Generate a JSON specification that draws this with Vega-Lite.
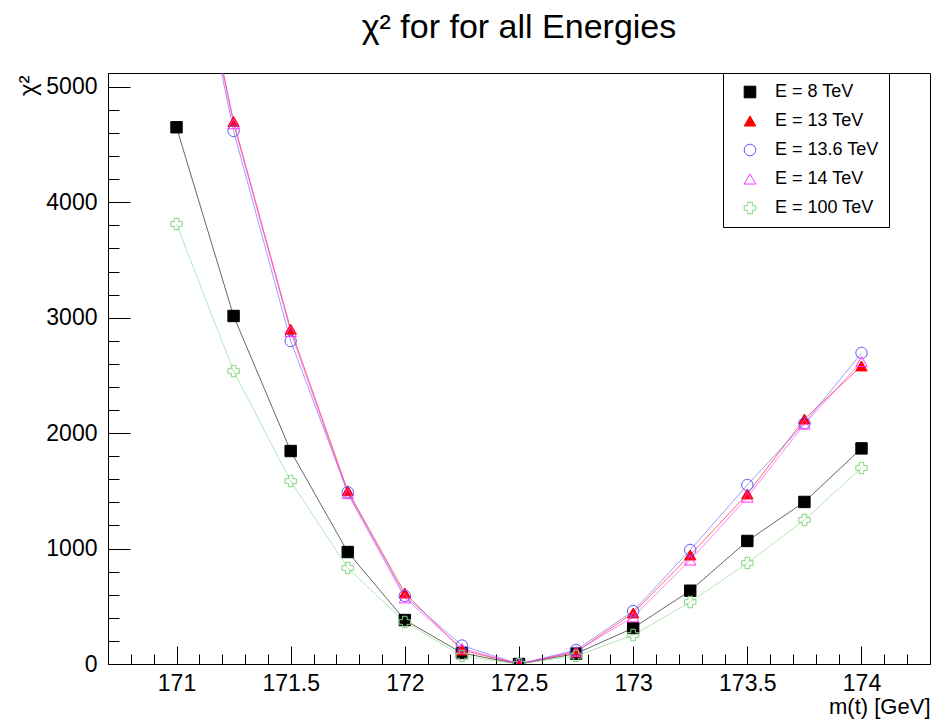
{
  "$schema": "https://vega.github.io/schema/vega-lite/v6.json",
  "width": 822,
  "height": 591,
  "autosize": {"type": "none"},
  "padding": {"left": 108, "top": 73, "right": 5, "bottom": 59},
  "background": "white",
  "title": {
    "text": "χ² for for all Energies",
    "font": "Liberation Sans",
    "fontSize": 34,
    "fontWeight": "normal",
    "color": "black",
    "anchor": "middle",
    "offset": 28
  },
  "config": {
    "view": {"stroke": "black", "strokeWidth": 1},
    "axis": {
      "grid": false,
      "domainColor": "black",
      "tickColor": "black",
      "labelColor": "black",
      "titleColor": "black",
      "labelFont": "Liberation Sans",
      "titleFont": "Liberation Sans",
      "titleFontWeight": "normal"
    }
  },
  "data": {
    "values": [
      {"m": 171, "chi2": 4650, "E": "E = 8 TeV"},
      {"m": 171.25, "chi2": 3015, "E": "E = 8 TeV"},
      {"m": 171.5, "chi2": 1845, "E": "E = 8 TeV"},
      {"m": 171.75, "chi2": 970, "E": "E = 8 TeV"},
      {"m": 172, "chi2": 381, "E": "E = 8 TeV"},
      {"m": 172.25, "chi2": 95, "E": "E = 8 TeV"},
      {"m": 172.5, "chi2": 0, "E": "E = 8 TeV"},
      {"m": 172.75, "chi2": 90, "E": "E = 8 TeV"},
      {"m": 173, "chi2": 312, "E": "E = 8 TeV"},
      {"m": 173.25, "chi2": 635, "E": "E = 8 TeV"},
      {"m": 173.5, "chi2": 1066, "E": "E = 8 TeV"},
      {"m": 173.75, "chi2": 1404, "E": "E = 8 TeV"},
      {"m": 174, "chi2": 1868, "E": "E = 8 TeV"},
      {"m": 171, "chi2": 7050, "E": "E = 13 TeV"},
      {"m": 171.25, "chi2": 4700, "E": "E = 13 TeV"},
      {"m": 171.5, "chi2": 2900, "E": "E = 13 TeV"},
      {"m": 171.75, "chi2": 1500, "E": "E = 13 TeV"},
      {"m": 172, "chi2": 615, "E": "E = 13 TeV"},
      {"m": 172.25, "chi2": 120, "E": "E = 13 TeV"},
      {"m": 172.5, "chi2": 0, "E": "E = 13 TeV"},
      {"m": 172.75, "chi2": 104, "E": "E = 13 TeV"},
      {"m": 173, "chi2": 442, "E": "E = 13 TeV"},
      {"m": 173.25, "chi2": 944, "E": "E = 13 TeV"},
      {"m": 173.5, "chi2": 1473, "E": "E = 13 TeV"},
      {"m": 173.75, "chi2": 2122, "E": "E = 13 TeV"},
      {"m": 174, "chi2": 2582, "E": "E = 13 TeV"},
      {"m": 171, "chi2": 7000, "E": "E = 13.6 TeV"},
      {"m": 171.25, "chi2": 4618, "E": "E = 13.6 TeV"},
      {"m": 171.5, "chi2": 2798, "E": "E = 13.6 TeV"},
      {"m": 171.75, "chi2": 1488, "E": "E = 13.6 TeV"},
      {"m": 172, "chi2": 590, "E": "E = 13.6 TeV"},
      {"m": 172.25, "chi2": 160, "E": "E = 13.6 TeV"},
      {"m": 172.5, "chi2": 0, "E": "E = 13.6 TeV"},
      {"m": 172.75, "chi2": 121, "E": "E = 13.6 TeV"},
      {"m": 173, "chi2": 459, "E": "E = 13.6 TeV"},
      {"m": 173.25, "chi2": 988, "E": "E = 13.6 TeV"},
      {"m": 173.5, "chi2": 1551, "E": "E = 13.6 TeV"},
      {"m": 173.75, "chi2": 2085, "E": "E = 13.6 TeV"},
      {"m": 174, "chi2": 2695, "E": "E = 13.6 TeV"},
      {"m": 171, "chi2": 7030, "E": "E = 14 TeV"},
      {"m": 171.25, "chi2": 4680, "E": "E = 14 TeV"},
      {"m": 171.5, "chi2": 2880, "E": "E = 14 TeV"},
      {"m": 171.75, "chi2": 1475, "E": "E = 14 TeV"},
      {"m": 172, "chi2": 572, "E": "E = 14 TeV"},
      {"m": 172.25, "chi2": 135, "E": "E = 14 TeV"},
      {"m": 172.5, "chi2": 0, "E": "E = 14 TeV"},
      {"m": 172.75, "chi2": 110, "E": "E = 14 TeV"},
      {"m": 173, "chi2": 407, "E": "E = 14 TeV"},
      {"m": 173.25, "chi2": 900, "E": "E = 14 TeV"},
      {"m": 173.5, "chi2": 1445, "E": "E = 14 TeV"},
      {"m": 173.75, "chi2": 2078, "E": "E = 14 TeV"},
      {"m": 174, "chi2": 2620, "E": "E = 14 TeV"},
      {"m": 171, "chi2": 3812, "E": "E = 100 TeV"},
      {"m": 171.25, "chi2": 2538, "E": "E = 100 TeV"},
      {"m": 171.5, "chi2": 1585, "E": "E = 100 TeV"},
      {"m": 171.75, "chi2": 832, "E": "E = 100 TeV"},
      {"m": 172, "chi2": 364, "E": "E = 100 TeV"},
      {"m": 172.25, "chi2": 70, "E": "E = 100 TeV"},
      {"m": 172.5, "chi2": 0, "E": "E = 100 TeV"},
      {"m": 172.75, "chi2": 70, "E": "E = 100 TeV"},
      {"m": 173, "chi2": 251, "E": "E = 100 TeV"},
      {"m": 173.25, "chi2": 537, "E": "E = 100 TeV"},
      {"m": 173.5, "chi2": 875, "E": "E = 100 TeV"},
      {"m": 173.75, "chi2": 1248, "E": "E = 100 TeV"},
      {"m": 174, "chi2": 1698, "E": "E = 100 TeV"}
    ]
  },
  "layer": [
    {
      "mark": {"type": "line", "strokeWidth": 1, "strokeOpacity": 0.6, "clip": true},
      "encoding": {
        "x": {
          "field": "m", "type": "quantitative",
          "scale": {"domain": [170.7, 174.3], "nice": false, "zero": false},
          "axis": {
            "orient": "bottom",
            "values": [170.8, 170.9, 171.0, 171.1, 171.2, 171.3, 171.4, 171.5, 171.6, 171.7, 171.8, 171.9, 172.0, 172.1, 172.2, 172.3, 172.4, 172.5, 172.6, 172.7, 172.8, 172.9, 173.0, 173.1, 173.2, 173.3, 173.4, 173.5, 173.6, 173.7, 173.8, 173.9, 174.0, 174.1, 174.2],
            "tickSize": -10,
            "labels": false,
            "domain": false,
            "title": null
          }
        },
        "y": {
          "field": "chi2", "type": "quantitative",
          "scale": {"domain": [0, 5120], "nice": false, "zero": false},
          "axis": {
            "orient": "left",
            "values": [200, 400, 600, 800, 1200, 1400, 1600, 1800, 2200, 2400, 2600, 2800, 3200, 3400, 3600, 3800, 4200, 4400, 4600, 4800],
            "tickSize": -11,
            "labels": false,
            "domain": false,
            "title": null
          }
        },
        "stroke": {"field": "E", "type": "nominal"}
      }
    },
    {
      "mark": {"type": "point", "size": 130, "strokeWidth": 1, "opacity": 1, "clip": true},
      "encoding": {
        "x": {
          "field": "m", "type": "quantitative",
          "axis": {
            "orient": "bottom",
            "values": [171, 171.5, 172, 172.5, 173, 173.5, 174],
            "format": "~g",
            "tickSize": -18,
            "labelFontSize": 23,
            "labelPadding": 26,
            "title": "m(t) [GeV]",
            "titleFontSize": 22,
            "titleAnchor": "end",
            "titleAlign": "right",
            "titleBaseline": "middle",
            "titleX": 822,
            "titleY": 42
          }
        },
        "y": {
          "field": "chi2", "type": "quantitative",
          "axis": {
            "orient": "left",
            "values": [0, 1000, 2000, 3000, 4000, 5000],
            "format": "d",
            "tickSize": -22,
            "labelFontSize": 23,
            "labelPadding": 33,
            "title": "χ²",
            "titleFontSize": 24,
            "titleAngle": 270,
            "titleAlign": "right",
            "titleBaseline": "middle",
            "titleX": -80,
            "titleY": 2
          }
        },
        "stroke": {
          "field": "E", "type": "nominal",
          "scale": {
            "domain": ["E = 8 TeV", "E = 13 TeV", "E = 13.6 TeV", "E = 14 TeV", "E = 100 TeV"],
            "range": ["black", "red", "#5c5cff", "#ff33ff", "#7fd67f"]
          },
          "legend": {
            "orient": "none",
            "legendX": 615,
            "legendY": 0,
            "title": null,
            "strokeColor": "black",
            "fillColor": "white",
            "padding": 10,
            "symbolSize": 135,
            "symbolStrokeWidth": 1,
            "symbolOffset": 8,
            "labelFont": "Liberation Sans",
            "labelFontSize": 18,
            "labelColor": "black",
            "labelOffset": 16,
            "rowPadding": 11
          }
        },
        "fill": {
          "field": "E", "type": "nominal",
          "scale": {
            "domain": ["E = 8 TeV", "E = 13 TeV", "E = 13.6 TeV", "E = 14 TeV", "E = 100 TeV"],
            "range": ["black", "red", "transparent", "transparent", "transparent"]
          }
        },
        "shape": {
          "field": "E", "type": "nominal",
          "scale": {
            "domain": ["E = 8 TeV", "E = 13 TeV", "E = 13.6 TeV", "E = 14 TeV", "E = 100 TeV"],
            "range": ["square", "triangle-up", "circle", "triangle-up", "cross"]
          }
        }
      }
    }
  ],
  "resolve": {"axis": {"x": "independent", "y": "independent"}}
}
